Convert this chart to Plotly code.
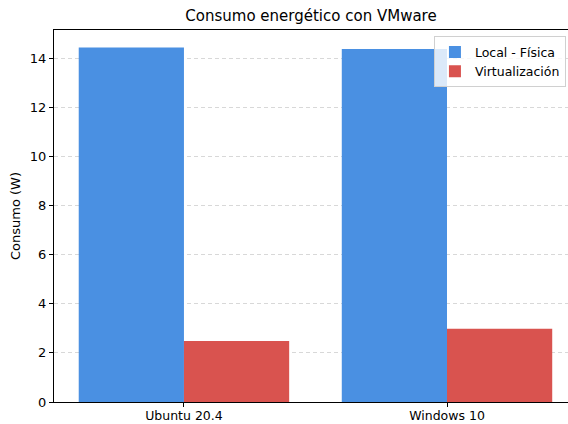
import plotly.graph_objects as go

# data
sistemas = ["Ubuntu 20.4", "Windows 10"]
local_fisica = [14.43, 14.37]
virtualizacion = [2.48, 2.98]

AZUL = "#4A90E2"
ROJO = "#D9534F"
FONT = "DejaVu Sans, Verdana, sans-serif"

x = list(range(len(sistemas)))

fig = go.Figure()
fig.add_bar(x=x, y=local_fisica, name="Local - Física", marker_color=AZUL,
            marker_line=dict(width=0), offset=-0.4, width=0.4)
fig.add_bar(x=x, y=virtualizacion, name="Virtualización", marker_color=ROJO,
            marker_line=dict(width=0), offset=0.0, width=0.4)

fig.update_layout(
    width=568, height=424,
    margin=dict(l=54, r=0, t=30, b=22),
    paper_bgcolor="white", plot_bgcolor="white",
    font=dict(family=FONT, size=13, color="black"),
    title=dict(text="Consumo energético con VMware", x=0.5, xanchor="center",
               xref="paper", y=0.962, yanchor="middle",
               font=dict(size=15, color="black")),
    showlegend=True,
    legend=dict(x=0.996, y=0.983, xanchor="right", yanchor="top",
                bgcolor="rgba(255,255,255,0.8)", bordercolor="#d0d0d0",
                borderwidth=1, font=dict(size=12.5), itemwidth=30,
                tracegroupgap=0),
    barmode="overlay",
)
fig.update_xaxes(
    range=[-0.494, 1.46], tickvals=x, ticktext=sistemas, automargin=False,
    tickfont=dict(size=12.5), ticklabelstandoff=-2,
    showgrid=False, zeroline=False,
    showline=True, linecolor="black", linewidth=1, mirror=True,
    ticks="outside", ticklen=4, tickcolor="black",
)
fig.update_yaxes(
    range=[0, 15.14], dtick=2, tick0=0, automargin=False,
    showgrid=True, gridcolor="rgba(190,190,190,0.6)", griddash="4px,3px", gridwidth=0.8,
    zeroline=False, showline=True, linecolor="black", linewidth=1,
    ticks="outside", ticklen=4, tickcolor="black",
    title=dict(text="Consumo (W)", standoff=6, font=dict(size=13)),
)

# browser default body margin would push the 568x424 figure off the window
fig.write_html("out.html", config={"displayModeBar": False},
               post_script="document.body.style.margin='0';document.body.style.overflow='hidden';")
